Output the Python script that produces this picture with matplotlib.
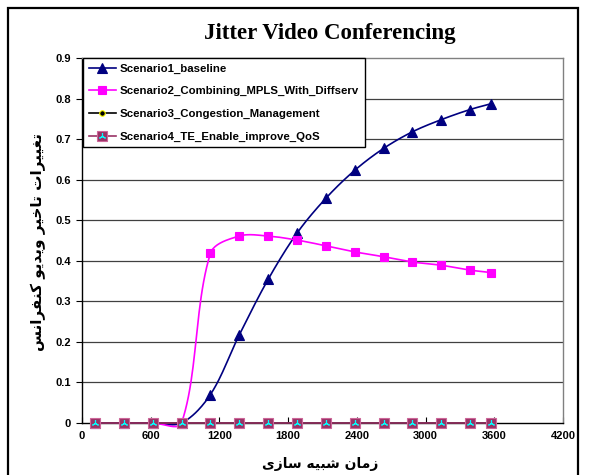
import numpy as np
import matplotlib
matplotlib.use("Agg")
import matplotlib.pyplot as plt
from matplotlib.patches import Rectangle
from matplotlib.legend_handler import HandlerTuple

# -----------------------------
# Data
# -----------------------------
sim_time = [113, 365, 617, 869, 1121, 1373, 1625, 1877, 2129, 2381, 2633, 2885, 3137, 3389, 3569]

scenario1 = [0, 0, 0, 0.0, 0.070, 0.217, 0.354, 0.468, 0.554, 0.623, 0.677, 0.718, 0.748, 0.773, 0.787]
scenario2 = [0, 0, 0, 0.0, 0.418, 0.461, 0.461, 0.451, 0.437, 0.422, 0.410, 0.397, 0.389, 0.377, 0.371]
scenario3 = [0] * 15
scenario4 = [0] * 15

labels = ["Scenario1_baseline",
          "Scenario2_Combining_MPLS_With_Diffserv",
          "Scenario3_Congestion_Management",
          "Scenario4_TE_Enable_improve_QoS"]

title = "Jitter Video Conferencing"
xlabel = "زمان شبیه سازی"
ylabel = "تغییرات تاخیر ویدیو کنفرانس"

xticks = [0, 600, 1200, 1800, 2400, 3000, 3600, 4200]
yticks = [0, 0.1, 0.2, 0.3, 0.4, 0.5, 0.6, 0.7, 0.8, 0.9]


# -----------------------------
# Persian shaping (matplotlib has no bidi / joining)
# -----------------------------
# letter: (isolated, final, initial, medial)
FORMS = {
    "ا": ("\uFE8D", "\uFE8E", None, None),
    "ب": ("\uFE8F", "\uFE90", "\uFE91", "\uFE92"),
    "ت": ("\uFE95", "\uFE96", "\uFE97", "\uFE98"),
    "خ": ("\uFEA5", "\uFEA6", "\uFEA7", "\uFEA8"),
    "د": ("\uFEA9", "\uFEAA", None, None),
    "ر": ("\uFEAD", "\uFEAE", None, None),
    "ز": ("\uFEAF", "\uFEB0", None, None),
    "س": ("\uFEB1", "\uFEB2", "\uFEB3", "\uFEB4"),
    "ش": ("\uFEB5", "\uFEB6", "\uFEB7", "\uFEB8"),
    "غ": ("\uFECD", "\uFECE", "\uFECF", "\uFED0"),
    "ف": ("\uFED1", "\uFED2", "\uFED3", "\uFED4"),
    "م": ("\uFEE1", "\uFEE2", "\uFEE3", "\uFEE4"),
    "ن": ("\uFEE5", "\uFEE6", "\uFEE7", "\uFEE8"),
    "ه": ("\uFEE9", "\uFEEA", "\uFEEB", "\uFEEC"),
    "و": ("\uFEED", "\uFEEE", None, None),
    "ی": ("\uFBFC", "\uFBFD", "\uFBFE", "\uFBFF"),
    "ک": ("\uFB8E", "\uFB8F", "\uFB90", "\uFB91"),
}


def shape_rtl(text):
    out = []
    for i, ch in enumerate(text):
        if ch not in FORMS:
            out.append(ch)
            continue
        prev = text[i - 1] if i > 0 else " "
        nxt = text[i + 1] if i + 1 < len(text) else " "
        joins_prev = prev in FORMS and FORMS[prev][2] is not None
        joins_next = nxt in FORMS and FORMS[ch][2] is not None
        iso, fin, ini, med = FORMS[ch]
        if joins_prev and joins_next:
            out.append(med)
        elif joins_prev:
            out.append(fin)
        elif joins_next:
            out.append(ini)
        else:
            out.append(iso)
    return "".join(out)[::-1]


# -----------------------------
# Excel-like smoothed line
# -----------------------------
def smooth_line(ax, x, y, n=24):
    pts = ax.transData.transform(np.column_stack([x, y]))
    N = len(pts)
    out = [pts[0]]
    t = np.linspace(0, 1, n)[1:, None]
    for i in range(N - 1):
        p0 = pts[i - 1] if i > 0 else pts[i]
        p1, p2 = pts[i], pts[i + 1]
        p3 = pts[i + 2] if i + 2 < N else pts[i + 1]
        d01 = np.linalg.norm(p1 - p0)
        d12 = np.linalg.norm(p2 - p1)
        d23 = np.linalg.norm(p3 - p2)
        c1 = p1 + (p2 - p0) / 3 * (d12 / (d01 + d12) if d01 + d12 > 0 else 0)
        c2 = p2 - (p3 - p1) / 3 * (d12 / (d12 + d23) if d12 + d23 > 0 else 0)
        seg = ((1 - t) ** 3) * p1 + 3 * ((1 - t) ** 2) * t * c1 + 3 * (1 - t) * t ** 2 * c2 + t ** 3 * p2
        out.extend(seg)
    xy = ax.transData.inverted().transform(np.array(out))
    return xy[:, 0], xy[:, 1]


fig = plt.figure(figsize=(5.91, 4.75), dpi=100)
ax = fig.add_axes([82 / 591, 52 / 475, 481 / 591, 365 / 475])
ax.set_xlim(0, 4200)
ax.set_ylim(0, 0.9)

styles = [
    dict(color="#000080", marker="^", mfc="#000080", mec="#000080", ms=6.5),
    dict(color="#FF00FF", marker="s", mfc="#FF00FF", mec="#FF00FF", ms=5.5),
    dict(color="#000000", marker="o", mfc="#000000", mec="#FFFF00", ms=4, mew=0.8),
    dict(color="#993366", marker="s", mfc="#993366", mec="#CC6699", ms=6.5),
]
series = [scenario1, scenario2, scenario3, scenario4]
star = dict(ls="none", marker=(3, 2, 0), color="#00FFFF", ms=5, mew=0.8)

handles = []
for k, (ys, st, lab) in enumerate(zip(series, styles, labels)):
    sx, sy = smooth_line(ax, sim_time, ys)
    ax.plot(sx, sy, color=st["color"], lw=1.2, zorder=3 + k, clip_on=False)
    ax.plot(sim_time, ys, ls="none", marker=st["marker"], mfc=st["mfc"], mec=st["mec"],
            ms=st["ms"], mew=st.get("mew", 0.8), zorder=3 + k, clip_on=False)
    h = ax.plot([], [], color=st["color"], lw=1.2, marker=st["marker"], mfc=st["mfc"],
                mec=st["mec"], ms=st["ms"], mew=st.get("mew", 0.8))[0]
    if k == 3:
        ax.plot(sim_time, ys, zorder=3 + k, clip_on=False, **star)
        h2 = ax.plot([], [], **star)[0]
        handles.append((h, h2))
    else:
        handles.append(h)

# grid and frame
for yv in yticks[1:-1]:
    ax.axhline(yv, color="#404040", lw=0.9, zorder=1)
for s in ["top", "right"]:
    ax.spines[s].set_color("#808080")
    ax.spines[s].set_linewidth(1.0)
for s in ["left", "bottom"]:
    ax.spines[s].set_color("black")
    ax.spines[s].set_linewidth(1.0)

ax.set_xticks(xticks)
ax.set_yticks(yticks)
ax.set_xticklabels([str(v) for v in xticks])
ax.set_yticklabels(["0" if v == 0 else f"{v:.1f}" for v in yticks])
ax.tick_params(axis="x", direction="in", length=4, pad=6, labelsize=8)
ax.tick_params(axis="y", direction="out", length=4, pad=4, labelsize=8)
for lbl in ax.get_xticklabels() + ax.get_yticklabels():
    lbl.set_fontfamily("Liberation Sans")
    lbl.set_fontweight("bold")

leg = ax.legend(handles, labels, loc="upper left", bbox_to_anchor=(0.002, 1.0),
                borderaxespad=0, fancybox=False, framealpha=1, edgecolor="black",
                handlelength=2.4, handletextpad=0.35, labelspacing=1.1, borderpad=0.5,
                prop=dict(family="Liberation Sans", weight="bold", size=8.2),
                handler_map={tuple: HandlerTuple(ndivide=1, pad=0)})
leg.get_frame().set_linewidth(1.0)
leg.set_zorder(10)

fig.text(330 / 591, 1 - 33 / 475, title, ha="center", va="center",
         family="Liberation Serif", weight="bold", size=16.5)
fig.text(320 / 591, 1 - 464 / 475, shape_rtl(xlabel), ha="center", va="center",
         family="DejaVu Sans", weight="bold", size=10)
fig.text(38 / 591, 1 - 242 / 475, shape_rtl(ylabel), ha="center", va="center", rotation=90,
         family="DejaVu Sans", weight="bold", size=11)

fig.patches.append(Rectangle((8 / 591, -0.02), 570 / 591, 1 - 8 / 475 + 0.02,
                             transform=fig.transFigure, fill=False, edgecolor="black", lw=1.6))

fig.savefig("out.png", dpi=100)
